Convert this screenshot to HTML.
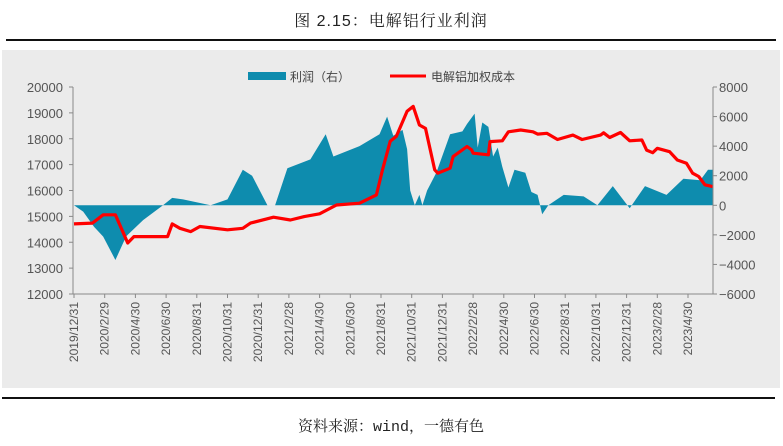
<!DOCTYPE html>
<html><head><meta charset="utf-8">
<style>
body{margin:0;width:783px;height:441px;background:#fff;overflow:hidden;font-family:"Liberation Sans","Noto Sans CJK SC",sans-serif;}
</style></head>
<body>
<svg id="chart" width="783" height="441" xmlns="http://www.w3.org/2000/svg">
<text x="391" y="26" text-anchor="middle" font-size="16" fill="#222" font-family="'Liberation Sans','Noto Serif CJK SC',serif" letter-spacing="1">图 2.15：电解铝行业利润</text>
<rect x="6" y="39" width="770" height="2" fill="#111"/>
<rect x="2" y="50" width="778" height="338" fill="#ebebeb"/>
<rect x="2" y="397" width="773" height="2" fill="#111"/>
<text x="391" y="431" text-anchor="middle" font-size="15" fill="#222" font-family="'Liberation Mono','Noto Serif CJK SC',monospace">资料来源：wind，一德有色</text>
<g id="legend">
<rect x="248" y="72" width="38" height="8" fill="#0e8cae"/>
<text x="290" y="81" font-size="12" fill="#444">利润（右）</text>
<rect x="390" y="74.5" width="36" height="3" fill="#f00"/>
<text x="431" y="81" font-size="12" fill="#444">电解铝加权成本</text>
</g>
<g id="plot"></g>
</svg>
<script>
const xTickLabels=["2019/12/31","2020/2/29","2020/4/30","2020/6/30","2020/8/31","2020/10/31","2020/12/31","2021/2/28","2021/4/30","2021/6/30","2021/8/31","2021/10/31","2021/12/31","2022/2/28","2022/4/30","2022/6/30","2022/8/31","2022/10/31","2022/12/31","2023/2/28","2023/4/30"];
const leftTicks=[12000,13000,14000,15000,16000,17000,18000,19000,20000];
const rightTicks=[-6000,-4000,-2000,0,2000,4000,6000,8000];
// time in months since 2019/12/31
const profitT=[0,0.6,1.3,1.9,2.7,3.4,4.5,5.8,6.4,7.1,8.9,10.0,11.0,11.6,12.3,12.6,13.1,13.9,15.4,16.4,16.9,18.6,19.9,20.4,20.8,21.4,21.7,21.9,22.2,22.5,22.7,23.0,23.6,24.5,25.3,25.6,26.1,26.3,26.6,27.0,27.3,27.6,27.9,28.3,28.7,29.4,29.8,30.2,30.5,30.9,31.9,33.2,34.1,35.1,36.2,37.2,38.6,39.7,40.8,41.3,41.6];
const profitV=[0,-430,-1450,-2120,-3700,-2100,-1000,0,500,400,0,400,2400,2000,600,0,0,2500,3100,4800,3300,4000,4800,6000,4700,5100,3800,1000,0,700,0,1000,2200,4800,5000,5500,6200,3900,5600,5300,3300,3900,2600,1200,2400,2200,900,700,-600,0,700,600,0,1300,-200,1300,700,1800,1700,2400,2400];
const costT=[0,1.2,1.9,2.7,3.5,3.9,6.1,6.4,6.9,7.6,8.2,10.0,11.0,11.5,13.0,14.1,15.0,16.0,17.1,18.6,19.7,20.1,20.6,21.0,21.7,22.1,22.5,22.9,23.5,23.7,24.5,24.7,25.6,25.9,26.0,27.0,27.1,27.9,28.3,29.1,29.9,30.2,30.8,31.5,32.5,33.1,34.3,34.5,34.9,35.6,36.2,37.0,37.3,37.7,38.0,38.8,39.3,39.9,40.3,40.7,41.1,41.6];
const costV=[14710,14740,15060,15060,13970,14220,14220,14710,14540,14410,14610,14480,14540,14740,14970,14860,14990,15100,15440,15510,15830,16800,17900,18090,19060,19250,18530,18400,16800,16670,16860,17310,17700,17570,17440,17380,17890,17920,18270,18340,18270,18180,18210,17970,18140,17970,18140,18230,18050,18240,17920,17950,17560,17460,17630,17500,17180,17050,16670,16540,16220,16150];

const X0=74,XM=15.35,TOP=87,BOT=294,RIGHT=713;
const xS=m=>X0+m*XM;
const yL=v=>TOP+(20000-v)/8000*(BOT-TOP);
const yR=v=>TOP+(8000-v)/14000*(BOT-TOP);
const NS="http://www.w3.org/2000/svg";
const plot=document.getElementById('plot');
function mk(tag,attrs){const e=document.createElementNS(NS,tag);for(const k in attrs)e.setAttribute(k,attrs[k]);plot.appendChild(e);return e;}

// profit area
let d=`M${xS(profitT[0])},${yR(0)}`;
profitT.forEach((t,i)=>{d+=` L${xS(t).toFixed(1)},${yR(profitV[i]).toFixed(1)}`;});
d+=` L${xS(profitT[profitT.length-1])},${yR(0)} Z`;
const area=mk('path',{d:d,fill:'#0e8cae'});



// cost line
const pts=costT.map((t,i)=>`${xS(t).toFixed(1)},${yL(costV[i]).toFixed(1)}`).join(' ');
const line=mk('polyline',{points:pts,fill:'none',stroke:'#f00','stroke-width':3.2,'stroke-linejoin':'round'});



// axes
const ax=mk('path',{d:`M${X0-1},${TOP} V${BOT} H${RIGHT} V${TOP}`,fill:'none',stroke:'#888','stroke-width':1});



leftTicks.forEach(v=>{
  const y=yL(v);
  const tk=mk('line',{x1:X0-5,x2:X0-1,y1:y,y2:y,stroke:'#888'});
  
  
  const t=mk('text',{x:X0-11,y:y+5,'text-anchor':'end','font-size':13,fill:'#555'});
  t.textContent=v;
  
  
});
rightTicks.forEach(v=>{
  const y=yR(v);
  const tk=mk('line',{x1:RIGHT,x2:RIGHT+4,y1:y,y2:y,stroke:'#888'});
  
  
  const t=mk('text',{x:RIGHT+6,y:y+5,'font-size':13,fill:'#555'});
  t.textContent=v<0?'−'+(-v):v;
  
  
});
xTickLabels.forEach((lab,i)=>{
  const x=xS(i*2);
  const tk=mk('line',{x1:x,x2:x,y1:BOT,y2:BOT+4,stroke:'#888'});
  
  
  const t=mk('text',{x:0,y:0,'text-anchor':'end','font-size':12,fill:'#555',transform:`translate(${x+4},${BOT+8}) rotate(-90)`});
  t.textContent=lab;
  
  
});
</script>
</body></html>
